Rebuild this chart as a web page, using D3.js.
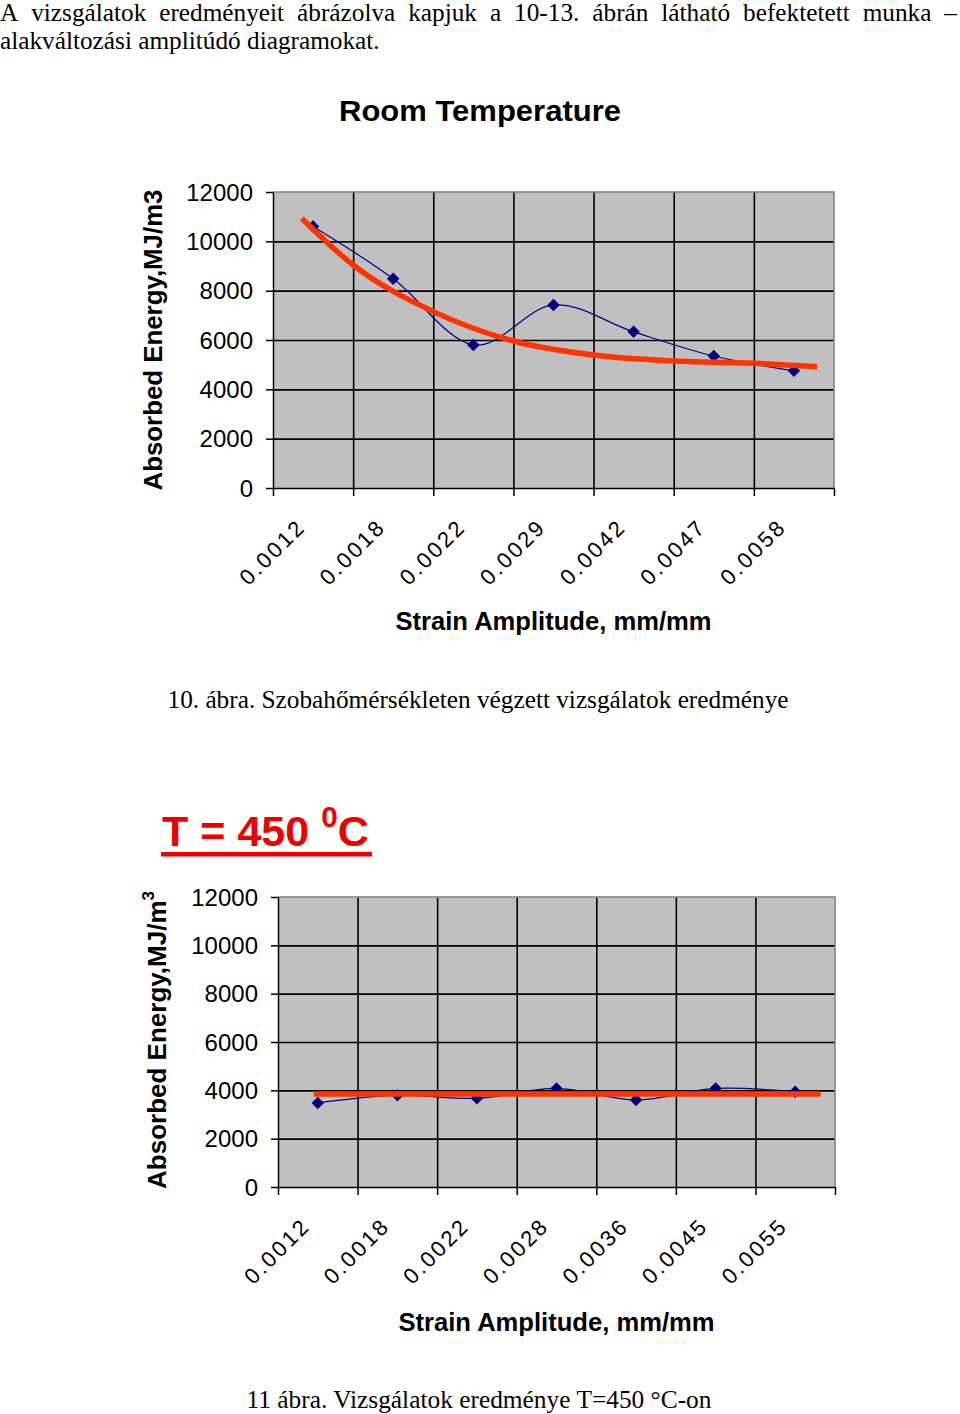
<!DOCTYPE html>
<html>
<head>
<meta charset="utf-8">
<script src="https://cdn.jsdelivr.net/npm/d3@7"></script>
<style>
  body { margin: 0; background: #fff; }
</style>
</head>
<body>
<svg id="page" width="960" height="1414"></svg>
<script>
// ---- data ----
var energyTicks = [0, 2000, 4000, 6000, 8000, 10000, 12000];

// fig 10, room temperature
var roomStrain = ['0.0012', '0.0018', '0.0022', '0.0029', '0.0042', '0.0047', '0.0058'];
var roomEnergy = [10600, 8480, 5800, 7420, 6330, 5350, 4750];
// red trend, position in category units (0 = first category)
var roomTrendAt = [-0.14, 0.5, 1.5, 2.5, 3.5, 4.5, 5.5, 6.29];
var roomTrendVal = [10930, 9040, 7150, 5960, 5390, 5150, 5055, 4920];

// fig 11, 450 C
var hotStrain = ['0.0012', '0.0018', '0.0022', '0.0028', '0.0036', '0.0045', '0.0055'];
var hotEnergy = [3480, 3800, 3670, 4080, 3600, 4080, 3940];
var hotTrendAt = [-0.05, 6.32];
var hotTrendVal = [3850, 3850];

var paraLines = [
  'A vizsgálatok eredményeit ábrázolva kapjuk a 10-13. ábrán látható befektetett munka –',
  'alakváltozási amplitúdó diagramokat.'
];
var caption10 = '10. ábra. Szobahőmérsékleten végzett vizsgálatok eredménye';
var caption11 = '11 ábra. Vizsgálatok eredménye T=450 °C-on';

var sans = 'Liberation Sans, Arial, Helvetica, sans-serif';
var serif = 'Liberation Serif, Times New Roman, serif';
var navy = '#000080';
var trendRed = '#ff3300';

var svg = d3.select('#page');

// ---- top paragraph (justified first line, narrow glyphs like the scan) ----
var para = svg.append('g').attr('font-family', serif).attr('font-size', 25).attr('fill', '#000');
var l2 = para.append('text').attr('x', 0).attr('y', 49).text(paraLines[1]);
var k = 380 / l2.node().getComputedTextLength();
para.attr('transform', 'scale(' + k + ',1)');
var words = paraLines[0].split(' ');
var widths = words.map(function (w) {
  var t = para.append('text').text(w);
  var len = t.node().getComputedTextLength();
  t.remove();
  return len;
});
var fullW = 957 / k;
var gap = (fullW - d3.sum(widths)) / (words.length - 1);
var cursor = 0;
words.forEach(function (w, i) {
  para.append('text').attr('x', cursor).attr('y', 21).text(w);
  cursor += widths[i] + gap;
});

// ---- one chart ----
function drawChart(c) {
  var n = c.labels.length;
  var x = d3.scaleLinear().domain([-0.5, n - 0.5]).range([c.left, c.right]);
  var y = d3.scaleLinear().domain([0, 12000]).range([c.bottom, c.top]);
  var w = c.right - c.left;
  var g = svg.append('g');

  g.append('rect')
    .attr('x', c.left).attr('y', c.top)
    .attr('width', w).attr('height', c.bottom - c.top)
    .attr('fill', '#c0c0c0');

  // horizontal grid
  var hg = g.append('g')
    .attr('transform', 'translate(' + c.left + ',0)')
    .call(d3.axisLeft(y).tickValues(energyTicks.slice(1, -1)).tickSize(-w).tickFormat(''));
  hg.select('.domain').remove();
  hg.selectAll('line').attr('stroke', '#000').attr('stroke-width', 1.6);

  // vertical grid at category boundaries
  var vg = g.append('g')
    .attr('transform', 'translate(0,' + c.top + ')')
    .call(d3.axisBottom(x).tickValues(d3.range(1, n).map(function (d) { return d - 0.5; }))
      .tickSize(c.bottom - c.top).tickFormat(''));
  vg.select('.domain').remove();
  vg.selectAll('line').attr('stroke', '#000').attr('stroke-width', 1.6);

  // plot border top / right
  g.append('path')
    .attr('d', 'M' + c.left + ',' + c.top + 'H' + c.right + 'V' + c.bottom)
    .attr('fill', 'none').attr('stroke', '#808080').attr('stroke-width', 1.5);

  // y axis
  var ya = g.append('g')
    .attr('transform', 'translate(' + c.left + ',0)')
    .call(d3.axisLeft(y).tickValues(energyTicks).tickSize(7).tickSizeOuter(0)
      .tickPadding(c.yPad).tickFormat(d3.format('d')));
  ya.attr('font-family', sans).attr('font-size', 24);
  ya.selectAll('line, .domain').attr('stroke', '#000').attr('stroke-width', 1.5);
  ya.selectAll('text').attr('fill', '#000').attr('dy', '0.34em');

  // x axis ticks at boundaries
  var xa = g.append('g')
    .attr('transform', 'translate(0,' + c.bottom + ')')
    .call(d3.axisBottom(x).tickValues(d3.range(n + 1).map(function (d) { return d - 0.5; }))
      .tickSize(8).tickSizeOuter(0).tickFormat(''));
  xa.selectAll('line, .domain').attr('stroke', '#000').attr('stroke-width', 1.5);

  // rotated category labels
  g.append('g').selectAll('text')
    .data(c.labels)
    .join('text')
    .attr('transform', function (d, i) {
      return 'translate(' + (x(i) - 8) + ',' + (c.bottom + 42) + ') rotate(-45)';
    })
    .attr('text-anchor', 'end')
    .attr('font-family', sans)
    .attr('font-size', 22)
    .attr('textLength', 80)
    .attr('lengthAdjust', 'spacing')
    .text(function (d) { return d; });

  // measured series (smoothed)
  var pts = c.values.map(function (v, i) { return [x(i), y(v)]; });
  g.append('path')
    .attr('d', d3.line().curve(d3.curveCardinal.tension(0))(pts))
    .attr('fill', 'none').attr('stroke', navy).attr('stroke-width', 1.2);
  g.append('g').selectAll('path')
    .data(pts)
    .join('path')
    .attr('transform', function (d) { return 'translate(' + d[0] + ',' + d[1] + ') rotate(45)'; })
    .attr('d', d3.symbol(d3.symbolSquare, 78))
    .attr('fill', navy);

  // red trend line
  var tpts = c.trendAt.map(function (t, i) { return [x(t), y(c.trendVal[i])]; });
  g.append('path')
    .attr('d', d3.line().curve(d3.curveMonotoneX)(tpts))
    .attr('fill', 'none').attr('stroke', trendRed)
    .attr('stroke-width', 5.5).attr('stroke-linecap', 'butt');

  // axis titles
  var yt = g.append('text')
    .attr('transform', 'translate(' + c.yTitleX + ',' + ((c.top + c.bottom) / 2 + c.yTitleShift) + ') rotate(-90)')
    .attr('text-anchor', 'middle')
    .attr('font-family', sans).attr('font-weight', 'bold').attr('font-size', c.yTitleSize);
  if (c.supUnit) {
    yt.append('tspan').text('Absorbed Energy,MJ/m');
    yt.append('tspan').attr('font-size', 17).attr('dy', -12).text('3');
  } else {
    yt.attr('textLength', 301).attr('lengthAdjust', 'spacingAndGlyphs');
    yt.text('Absorbed Energy,MJ/m3');
  }

  g.append('text')
    .attr('x', (c.left + c.right) / 2).attr('y', c.xTitleY)
    .attr('text-anchor', 'middle')
    .attr('font-family', sans).attr('font-weight', 'bold').attr('font-size', 25)
    .attr('textLength', 316).attr('lengthAdjust', 'spacingAndGlyphs')
    .text('Strain Amplitude, mm/mm');
}

// fig 10
svg.append('text')
  .attr('x', 480).attr('y', 121)
  .attr('text-anchor', 'middle')
  .attr('font-family', sans).attr('font-weight', 'bold').attr('font-size', 29)
  .attr('textLength', 282).attr('lengthAdjust', 'spacingAndGlyphs')
  .text('Room Temperature');

drawChart({
  labels: roomStrain, values: roomEnergy,
  trendAt: roomTrendAt, trendVal: roomTrendVal,
  left: 273, right: 834, top: 192, bottom: 488,
  yPad: 13, yTitleX: 162, yTitleShift: 0, yTitleSize: 25, xTitleY: 630, supUnit: false
});

svg.append('text')
  .attr('x', 478).attr('y', 708)
  .attr('text-anchor', 'middle')
  .attr('font-family', serif).attr('font-size', 25)
  .attr('textLength', 621).attr('lengthAdjust', 'spacingAndGlyphs')
  .text(caption10);

// fig 11 title, stretched to the width in the picture
var t2g = svg.append('g');
var t2 = t2g.append('text')
  .attr('x', 0).attr('y', 0)
  .attr('font-family', sans).attr('font-weight', 'bold').attr('font-size', 42)
  .attr('fill', '#ee0000');
t2.append('tspan').text('T = 450 ');
t2.append('tspan').attr('font-size', 29).attr('dy', -19).text('0');
t2.append('tspan').attr('dy', 19).text('C');
var tw = t2.node().getComputedTextLength();
t2g.attr('transform', 'translate(162,846) scale(' + (207 / tw) + ',1)');
svg.append('rect')
  .attr('x', 161).attr('y', 852).attr('width', 211).attr('height', 4.5)
  .attr('fill', '#ee0000');

drawChart({
  labels: hotStrain, values: hotEnergy,
  trendAt: hotTrendAt, trendVal: hotTrendVal,
  left: 278, right: 835, top: 897, bottom: 1187,
  yPad: 13, yTitleX: 166, yTitleShift: -2, yTitleSize: 26, xTitleY: 1331, supUnit: true
});

svg.append('text')
  .attr('x', 479).attr('y', 1408)
  .attr('text-anchor', 'middle')
  .attr('font-family', serif).attr('font-size', 25)
  .attr('textLength', 465).attr('lengthAdjust', 'spacingAndGlyphs')
  .text(caption11);
</script>
</body>
</html>
